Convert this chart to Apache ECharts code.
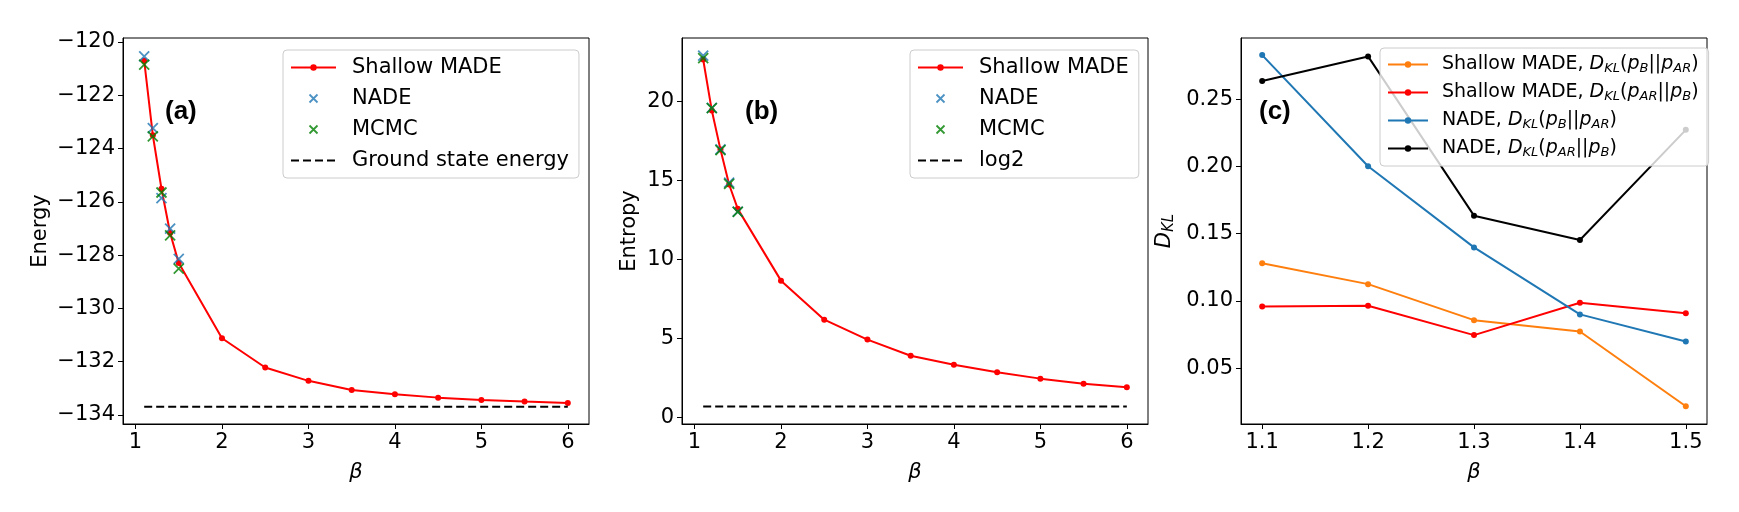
<!DOCTYPE html>
<html>
<head>
<meta charset="utf-8">
<script src="https://cdn.jsdelivr.net/npm/echarts@6/dist/echarts.min.js"></script>
<style>
  html, body { margin: 0; padding: 0; background: #fff; }
  #main { width: 1739px; height: 512px; }
</style>
</head>
<body>
<div id="main"></div>
<script>
// beta values
var betaAll = [1.1, 1.2, 1.3, 1.4, 1.5, 2, 2.5, 3, 3.5, 4, 4.5, 5, 5.5, 6];
var betaSmall = [1.1, 1.2, 1.3, 1.4, 1.5];

// (a) energy
var energyMade = [-120.70, -123.50, -125.51, -127.17, -128.30, -131.12, -132.22, -132.72, -133.06, -133.22, -133.35, -133.44, -133.50, -133.55];
var energyNade = [-120.54, -123.23, -125.86, -127.01, -128.14];
var energyMcmc = [-120.85, -123.54, -125.65, -127.26, -128.51];
var groundEnergy = -133.69;

// (b) entropy
var entropyMade = [22.64, 19.41, 16.94, 14.73, 13.19, 8.65, 6.18, 4.92, 3.90, 3.33, 2.85, 2.45, 2.13, 1.90];
var entropyNade = [22.89, 19.58, 16.96, 14.85, 13.02];
var entropyMcmc = [22.72, 19.56, 16.90, 14.77, 13.00];
var log2 = 0.693;

// (c) KL divergences
var dklMadeBAR = [0.1280, 0.1125, 0.0857, 0.0773, 0.0217];
var dklMadeARB = [0.0959, 0.0964, 0.0746, 0.0986, 0.0909];
var dklNadeBAR = [0.2828, 0.2001, 0.1398, 0.0900, 0.0699];
var dklNadeARB = [0.2636, 0.2818, 0.1634, 0.1453, 0.2272];

// tick labels
var ticksBeta = [1, 2, 3, 4, 5, 6];
var ticksEnergy = [-134, -132, -130, -128, -126, -124, -122, -120];
var ticksEntropy = [0, 5, 10, 15, 20];
var ticksBetaC = [1.1, 1.2, 1.3, 1.4, 1.5];
var ticksDkl = [0.05, 0.10, 0.15, 0.20, 0.25];

var FONT = 'DejaVu Sans';
var RED = '#ff0000', BLUE = '#1f77b4', GREEN = '#008000', ORANGE = '#ff7f0e';
var CROSS = 'path://M0,0L10,10M10,0L0,10';

function pairs(xs, ys) {
    return xs.map(function (x, i) { return [x, ys[i]]; });
}
function minus(v) {
    return v < 0 ? '\u2212' + Math.abs(v) : String(v);
}

var chart = echarts.init(document.getElementById('main'));

function xAxisFor(idx, min, max, ticks, fmt) {
    return {
        type: 'value', gridIndex: idx, min: min, max: max,
        name: 'β', nameLocation: 'middle', nameGap: 38,
        nameTextStyle: { fontFamily: FONT, fontSize: 21, fontStyle: 'italic', color: '#000' },
        axisLine: { show: true, onZero: false, lineStyle: { color: '#000', width: 1 } },
        axisTick: { show: true, length: 5, customValues: ticks, lineStyle: { color: '#000' } },
        axisLabel: { customValues: ticks, margin: 8, fontFamily: FONT, fontSize: 21, color: '#000', formatter: fmt },
        splitLine: { show: false }
    };
}
function yAxisFor(idx, min, max, ticks, fmt, name, gap) {
    return {
        type: 'value', gridIndex: idx, min: min, max: max,
        name: name, nameLocation: 'middle', nameGap: gap,
        nameTextStyle: {
            fontFamily: FONT, fontSize: 21, color: '#000',
            rich: {
                i: { fontFamily: FONT, fontSize: 21, fontStyle: 'italic', color: '#000' },
                s: { fontFamily: FONT, fontSize: 15, fontStyle: 'italic', color: '#000', padding: [10, 0, 0, 0] }
            }
        },
        axisLine: { show: true, onZero: false, lineStyle: { color: '#000', width: 1 } },
        axisTick: { show: true, length: 5, customValues: ticks, lineStyle: { color: '#000' } },
        axisLabel: { customValues: ticks, margin: 8, fontFamily: FONT, fontSize: 21, color: '#000', formatter: fmt },
        splitLine: { show: false }
    };
}

function madeLine(name, idx, xs, ys, color) {
    return {
        name: name, type: 'line', xAxisIndex: idx, yAxisIndex: idx,
        data: pairs(xs, ys), symbol: 'circle', symbolSize: 6, showSymbol: true,
        lineStyle: { color: color, width: 2 }, itemStyle: { color: color },
        animation: false, z: 2
    };
}
function crosses(name, idx, xs, ys, color) {
    return {
        name: name, type: 'scatter', xAxisIndex: idx, yAxisIndex: idx,
        data: pairs(xs, ys), symbol: CROSS, symbolSize: 10,
        itemStyle: { color: 'transparent', borderColor: color, borderWidth: 1.8 },
        animation: false, z: 3
    };
}
function flatLine(name, idx, x0, x1, y) {
    return {
        name: name, type: 'line', xAxisIndex: idx, yAxisIndex: idx,
        data: [[x0, y], [x1, y]], symbol: 'none',
        lineStyle: { color: '#000', width: 2, type: [8, 4] },
        itemStyle: { color: '#000' },
        animation: false, z: 3
    };
}

function legendFor(left, top, names, fontSize, gap, extra) {
    var o = {
        orient: 'vertical', left: left, top: top,
        itemWidth: 45, itemHeight: 8, itemGap: gap,
        padding: [7, 10, 7, 7],
        borderColor: '#cccccc', borderWidth: 1, borderRadius: 4,
        backgroundColor: 'rgba(255,255,255,0.8)',
        selectedMode: false,
        textStyle: { fontFamily: FONT, fontSize: fontSize, color: '#000', padding: [0, 0, 0, 11] },
        data: names
    };
    for (var k in extra) o[k] = extra[k];
    return o;
}

var crossLegend = function (name, color) {
    return { name: name, itemStyle: { color: 'transparent', borderColor: color, borderWidth: 1.8 } };
};
// dashed reference lines: hide the dot that the legend adds
var dashLegend = function (name) {
    return { name: name, itemStyle: { color: 'transparent', borderWidth: 0 } };
};

var dklNames = {
    'Shallow MADE, D_KL(p_B||p_AR)': '{n|Shallow MADE, }{i|D}{s|KL}{n|(}{i|p}{s|B}{n|||}{i|p}{s|AR}{n|)}',
    'Shallow MADE, D_KL(p_AR||p_B)': '{n|Shallow MADE, }{i|D}{s|KL}{n|(}{i|p}{s|AR}{n|||}{i|p}{s|B}{n|)}',
    'NADE, D_KL(p_B||p_AR)': '{n|NADE, }{i|D}{s|KL}{n|(}{i|p}{s|B}{n|||}{i|p}{s|AR}{n|)}',
    'NADE, D_KL(p_AR||p_B)': '{n|NADE, }{i|D}{s|KL}{n|(}{i|p}{s|AR}{n|||}{i|p}{s|B}{n|)}'
};
var dklKeys = Object.keys(dklNames);

chart.setOption({
    backgroundColor: '#fff',
    animation: false,
    grid: [
        { left: 123, top: 38, width: 466, height: 386, show: true, borderColor: '#000', borderWidth: 1, backgroundColor: 'transparent' },
        { left: 682, top: 38, width: 466, height: 386, show: true, borderColor: '#000', borderWidth: 1, backgroundColor: 'transparent' },
        { left: 1241, top: 38, width: 466, height: 386, show: true, borderColor: '#000', borderWidth: 1, backgroundColor: 'transparent' }
    ],
    xAxis: [
        xAxisFor(0, 0.855, 6.245, ticksBeta, function (v) { return String(v); }),
        xAxisFor(1, 0.855, 6.245, ticksBeta, function (v) { return String(v); }),
        xAxisFor(2, 1.08, 1.52, ticksBetaC, function (v) { return v.toFixed(1); })
    ],
    yAxis: [
        yAxisFor(0, -134.34, -119.85, ticksEnergy, minus, 'Energy', 72),
        yAxisFor(1, -0.42, 24.0, ticksEntropy, function (v) { return String(v); }, 'Entropy', 42),
        yAxisFor(2, 0.0085, 0.2955, ticksDkl, function (v) { return v.toFixed(2); }, '{i|D}{s|KL}', 64)
    ],
    legend: [
        legendFor(283, 50, ['Shallow MADE', crossLegend('NADE', BLUE), crossLegend('MCMC', GREEN), dashLegend('Ground state energy')], 21, 10, {}),
        legendFor(910, 50, ['Shallow MADE', crossLegend('NADE', BLUE), crossLegend('MCMC', GREEN), dashLegend('log2')], 21, 10, {}),
        legendFor(1380, 48, dklKeys, 19, 8, {
            itemWidth: 40,
            formatter: function (name) { return dklNames[name]; },
            textStyle: {
                fontFamily: FONT, fontSize: 19, color: '#000', padding: [0, 0, 0, 9],
                rich: {
                    n: { fontFamily: FONT, fontSize: 19, color: '#000' },
                    i: { fontFamily: FONT, fontSize: 19, fontStyle: 'italic', color: '#000' },
                    s: { fontFamily: FONT, fontSize: 13, fontStyle: 'italic', color: '#000', padding: [8, 0, 0, 0] }
                }
            }
        })
    ],
    graphic: [
        { type: 'text', left: 165, top: 99, style: { text: '(a)', font: 'bold 26px "Liberation Sans"', fill: '#000' } },
        { type: 'text', left: 745, top: 99, style: { text: '(b)', font: 'bold 26px "Liberation Sans"', fill: '#000' } },
        { type: 'text', left: 1259, top: 99, style: { text: '(c)', font: 'bold 26px "Liberation Sans"', fill: '#000' } }
    ],
    series: [
        madeLine('Shallow MADE', 0, betaAll, energyMade, RED),
        crosses('NADE', 0, betaSmall, energyNade, BLUE),
        crosses('MCMC', 0, betaSmall, energyMcmc, GREEN),
        flatLine('Ground state energy', 0, 1.1, 6, groundEnergy),

        madeLine('Shallow MADE', 1, betaAll, entropyMade, RED),
        crosses('NADE', 1, betaSmall, entropyNade, BLUE),
        crosses('MCMC', 1, betaSmall, entropyMcmc, GREEN),
        flatLine('log2', 1, 1.1, 6, log2),

        madeLine(dklKeys[0], 2, betaSmall, dklMadeBAR, ORANGE),
        madeLine(dklKeys[1], 2, betaSmall, dklMadeARB, RED),
        madeLine(dklKeys[2], 2, betaSmall, dklNadeBAR, BLUE),
        madeLine(dklKeys[3], 2, betaSmall, dklNadeARB, '#000')
    ]
});
</script>
</body>
</html>
